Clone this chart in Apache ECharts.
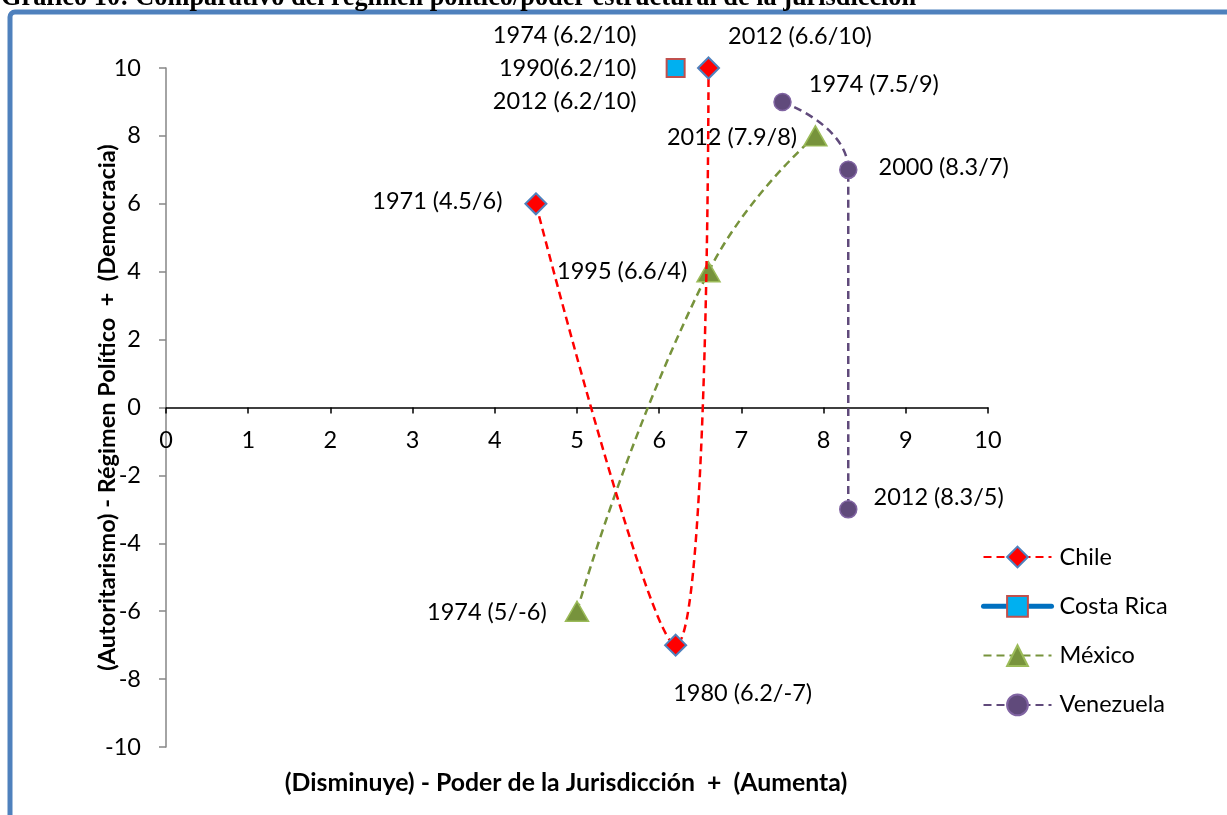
<!DOCTYPE html>
<html>
<head>
<meta charset="utf-8">
<script src="https://cdn.jsdelivr.net/npm/echarts@6/dist/echarts.min.js"></script>
<style>
  html, body { margin: 0; padding: 0; background: #ffffff; }
  #chart { width: 1227px; height: 815px; }
</style>
</head>
<body>
<div id="chart"></div>
<script>
// Series names (legend order)
const seriesNames = ['Chile', 'Costa Rica', 'México', 'Venezuela'];

// Chile
const chileX = [4.5, 6.2, 6.6];
const chileY = [6, -7, 10];
const chileLabels = ['1971 (4.5/6)', '1980 (6.2/-7)', '2012 (6.6/10)'];

// Costa Rica (three years share one position)
const costaX = [6.2];
const costaY = [10];
const costaLabels = ['1974 (6.2/10)\n1990(6.2/10)\n2012 (6.2/10)'];

// México
const mexicoX = [5, 6.6, 7.9];
const mexicoY = [-6, 4, 8];
const mexicoLabels = ['1974 (5/-6)', '1995 (6.6/4)', '2012 (7.9/8)'];

// Venezuela
const venezX = [7.5, 8.3, 8.3];
const venezY = [9, 7, -3];
const venezLabels = ['1974 (7.5/9)', '2000 (8.3/7)', '2012 (8.3/5)'];

// Axis ranges
const xMin = 0, xMax = 10, xStep = 1;
const yMin = -10, yMax = 10, yStep = 2;

// Axis titles and heading
const chartTitle = 'Gráfico 10: Comparativo del régimen político/poder estructural de la jurisdicción';
const xTitle = '(Disminuye) - Poder de la Jurisdicción  +  (Aumenta)';
const yTitle = '(Autoritarismo) - Régimen Político  +  (Democracia)';

// Where each point's annotation sits relative to its marker
const chilePlace = [
  { position: 'left', distance: 22, offset: [0, -2] },
  { position: 'bottom', distance: 20, offset: [67, 0] },
  { position: 'right', distance: 8, offset: [0, -32] }
];
const costaPlace = [
  { position: 'left', distance: 29, offset: [0, 0] }
];
const mexicoPlace = [
  { position: 'left', distance: 18, offset: [0, 1] },
  { position: 'left', distance: 9, offset: [0, 0] },
  { position: 'left', distance: 6, offset: [0, 2] }
];
const venezPlace = [
  { position: 'right', distance: 17, offset: [0, -18] },
  { position: 'right', distance: 21, offset: [0, -2] },
  { position: 'right', distance: 16, offset: [0, -12] }
];

const FONT = 'Lato';
const LABEL_SIZE = 23.5;

// Plot area edges
const GRID = { left: 166, right: 239, top: 68, bottom: 68 };
const CHART_H = 815;
// Vertical shift that brings the horizontal axis up to the y = 0 line
const plotH = CHART_H - GRID.top - GRID.bottom;
const xAxisShift = -plotH * (0 - yMin) / (yMax - yMin);

function buildData(xs, ys, labels, place) {
  return xs.map(function (x, i) {
    const p = place[i];
    return {
      value: [x, ys[i]],
      label: {
        show: true,
        formatter: labels[i],
        position: p.position,
        distance: p.distance,
        offset: p.offset,
        color: '#000000',
        fontFamily: FONT,
        fontSize: LABEL_SIZE,
        lineHeight: 33,
        align: p.position === 'left' ? 'right' : (p.position === 'right' ? 'left' : 'center')
      }
    };
  });
}

const chart = echarts.init(document.getElementById('chart'), null, { renderer: 'canvas' });

const option = {
  animation: false,
  backgroundColor: '#ffffff',
  textStyle: { fontFamily: FONT },
  grid: { left: GRID.left, right: GRID.right, top: GRID.top, bottom: GRID.bottom, containLabel: false },
  xAxis: {
    type: 'value',
    min: xMin, max: xMax, interval: xStep,
    position: 'bottom',
    offset: xAxisShift,
    axisLine: { onZero: false, lineStyle: { color: '#000000', width: 1.5 } },
    axisTick: { show: true, length: 6, lineStyle: { color: '#000000', width: 1.5 } },
    axisLabel: { color: '#000000', fontFamily: FONT, fontSize: LABEL_SIZE, margin: 21 },
    splitLine: { show: false }
  },
  yAxis: {
    type: 'value',
    min: yMin, max: yMax, interval: yStep,
    axisLine: { show: true, onZero: false, lineStyle: { color: '#868686', width: 1.5 } },
    axisTick: { show: true, length: 7, lineStyle: { color: '#868686', width: 1.5 } },
    axisLabel: { color: '#000000', fontFamily: FONT, fontSize: LABEL_SIZE, margin: 25 },
    splitLine: { show: false },
    name: yTitle,
    nameLocation: 'middle',
    nameRotate: 90,
    nameGap: 47,
    nameMoveOverlap: false,
    nameTextStyle: { color: '#000000', fontFamily: FONT, fontSize: 23.5, fontWeight: 'bold' }
  },
  legend: {
    orient: 'vertical',
    left: 976,
    top: 540,
    itemWidth: 68,
    itemHeight: 26,
    itemGap: 25.3,
    textStyle: { color: '#000000', fontFamily: FONT, fontSize: LABEL_SIZE, padding: [0, 0, 0, 3] },
    data: [
      { name: seriesNames[0] },
      { name: seriesNames[1], lineStyle: { width: 5, cap: 'round' } },
      { name: seriesNames[2] },
      { name: seriesNames[3] }
    ]
  },
  graphic: [
    {
      type: 'rect',
      shape: { x: 10, y: 12, width: 1260, height: 860, r: 5 },
      style: { fill: 'none', stroke: '#4F81BD', lineWidth: 5 },
      silent: true, z: -10
    },
    {
      type: 'text',
      left: 1, top: -15,
      style: {
        text: chartTitle,
        fill: '#000000',
        font: 'bold 26.3px "Liberation Serif", "Times New Roman", serif'
      },
      silent: true
    },
    {
      type: 'text',
      x: 566, y: 783,
      style: {
        text: xTitle,
        fill: '#000000',
        font: 'bold 24.8px ' + FONT,
        align: 'center',
        verticalAlign: 'middle'
      },
      silent: true
    }
  ],
  series: [
    {
      name: seriesNames[0],
      type: 'line',
      smooth: 0.5,
      symbol: 'diamond',
      symbolSize: 21,
      itemStyle: { color: '#FF0000', borderColor: '#4F81BD', borderWidth: 2 },
      lineStyle: { color: '#FF0000', width: 2.5, type: [8, 5] },
      data: buildData(chileX, chileY, chileLabels, chilePlace),
      z: 3
    },
    {
      name: seriesNames[1],
      type: 'line',
      symbol: 'rect',
      symbolSize: 18,
      itemStyle: { color: '#00B0F0', borderColor: '#C0504D', borderWidth: 2 },
      lineStyle: { color: '#0070C0', width: 5, type: 'solid' },
      data: buildData(costaX, costaY, costaLabels, costaPlace),
      z: 3
    },
    {
      name: seriesNames[2],
      type: 'line',
      smooth: 0.5,
      symbol: 'triangle',
      symbolSize: [23, 20],
      itemStyle: { color: '#77933C', borderColor: '#9BBB59', borderWidth: 1.5 },
      lineStyle: { color: '#77933C', width: 2.5, type: [8, 5] },
      data: buildData(mexicoX, mexicoY, mexicoLabels, mexicoPlace),
      z: 2
    },
    {
      name: seriesNames[3],
      type: 'line',
      smooth: 0.5,
      symbol: 'circle',
      symbolSize: 17,
      itemStyle: { color: '#604A7B', borderColor: '#8064A2', borderWidth: 1.5 },
      lineStyle: { color: '#604A7B', width: 2.5, type: [8, 5] },
      data: buildData(venezX, venezY, venezLabels, venezPlace),
      z: 2
    }
  ]
};

chart.setOption(option);
</script>
</body>
</html>
